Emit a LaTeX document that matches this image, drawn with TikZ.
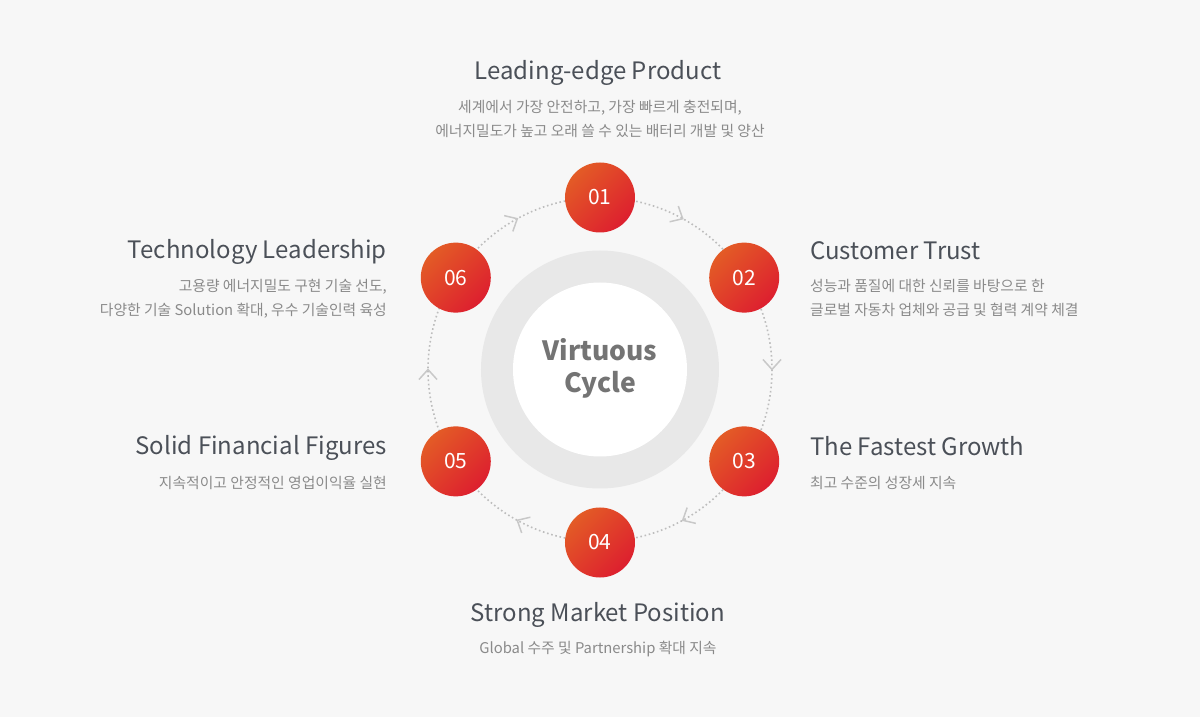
\documentclass[tikz,border=0pt]{standalone}
\usepackage{fontspec}
\setmainfont{Noto Sans CJK KR}
\definecolor{bg}{HTML}{F7F7F7}
\definecolor{ringgray}{HTML}{E8E8E8}
\definecolor{dotgray}{HTML}{BDBDBD}
\definecolor{chevgray}{HTML}{C8C8C8}
\definecolor{orangeA}{HTML}{E35B26}
\definecolor{redA}{HTML}{DD1F2F}
\definecolor{titlecol}{HTML}{4B5058}
\definecolor{subcol}{HTML}{8A8A8A}
\definecolor{centercol}{HTML}{747474}
\begin{document}
\begin{tikzpicture}[x=1pt,y=1pt,
  numnode/.style={circle, minimum size=70pt, inner sep=0pt, shading=axis,
    top color=orangeA, bottom color=redA, shading angle=45, text=white,
    font=\fontsize{21}{21}\selectfont},
  title/.style={inner sep=0pt, text=titlecol, font=\fontsize{24}{24}\selectfont},
  sub/.style={inner sep=0pt, text=subcol, font=\fontsize{14.8}{14.8}\selectfont},
  ctext/.style={inner sep=0pt, text=centercol, font=\bfseries\fontsize{26.5}{26.5}\selectfont},
  dotline/.style={dotgray, line width=1.6pt, dash pattern=on 1.6pt off 2.7pt},
  chev/.style={chevgray, line width=1.5pt}]
\fill[bg] (-600,-347.5) rectangle (600,369.5);
\useasboundingbox (-600,-347.5) rectangle (600,369.5);
% central ring
\fill[ringgray] (0,0) circle (119);
\fill[white] (0,0) circle (87);
\node[ctext, anchor=base] (cv) at (0,8.5) {Virtuous};
\node[ctext, anchor=base] (cc) at (0,-23.5) {Cycle};
% dotted cycle
\draw[dotline] (0,0) circle (172);
\foreach \a in {61.25,0,-61.25,-118.75,180,118.75}
  \draw[chev, shift={(\a:172)}, rotate=\a-90] (-10,9) -- (0,0) -- (-10,-9);
% numbered nodes
\node[numnode] (n1) at (90:172) {01};
\node[numnode] (n2) at (32.5:171) {02};
\node[numnode] (n3) at (-32.5:171) {03};
\node[numnode] (n4) at (-90:173) {04};
\node[numnode] (n5) at (-147.5:171) {05};
\node[numnode] (n6) at (147.5:171) {06};
% top
\node[title, anchor=base] (t1) at (-2,290) {Leading-edge Product};
\node[sub, anchor=base] (s1a) at (0,257) {세계에서 가장 안전하고, 가장 빠르게 충전되며,};
\node[sub, anchor=base] (s1b) at (0,232.5) {에너지밀도가 높고 오래 쓸 수 있는 배터리 개발 및 양산};
% right upper
\node[title, anchor=base west] (t2) at (210,110) {Customer Trust};
\node[sub, anchor=base west] (s2a) at (210,77.5) {성능과 품질에 대한 신뢰를 바탕으로 한};
\node[sub, anchor=base west] (s2b) at (210,53.5) {글로벌 자동차 업체와 공급 및 협력 계약 체결};
% right lower
\node[title, anchor=base west] (t3) at (210,-86) {The Fastest Growth};
\node[sub, anchor=base west] (s3a) at (210,-119.5) {최고 수준의 성장세 지속};
% bottom
\node[title, anchor=base] (t4) at (-2,-252) {Strong Market Position};
\node[sub, anchor=base] (s4a) at (-2,-283.5) {Global 수주 및 Partnership 확대 지속};
% left lower
\node[title, anchor=base east] (t5) at (-213,-85) {Solid Financial Figures};
\node[sub, anchor=base east] (s5a) at (-213,-119.5) {지속적이고 안정적인 영업이익율 실현};
% left upper
\node[title, anchor=base east] (t6) at (-213,111) {Technology Leadership};
\node[sub, anchor=base east] (s6a) at (-213,77.5) {고용량 에너지밀도 구현 기술 선도,};
\node[sub, anchor=base east] (s6b) at (-213,53.5) {다양한 기술 Solution 확대, 우수 기술인력 육성};
\end{tikzpicture}
\end{document}
